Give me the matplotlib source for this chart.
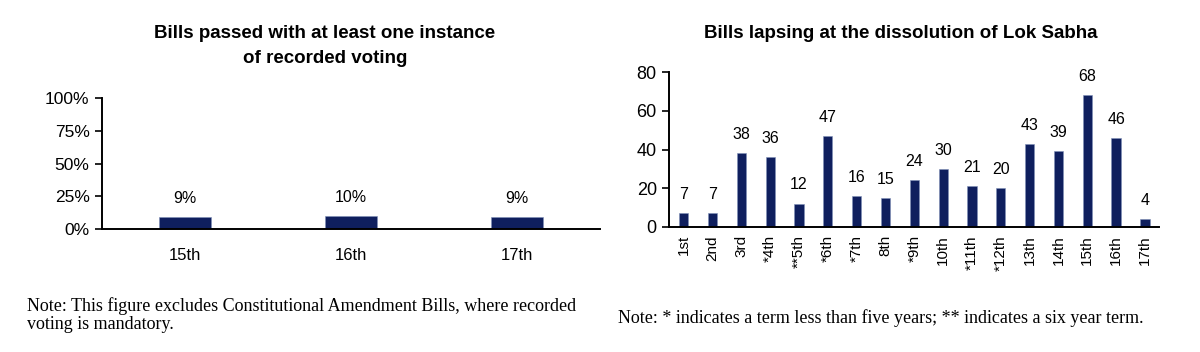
import matplotlib
matplotlib.use("Agg")
import matplotlib.pyplot as plt
from matplotlib.font_manager import fontManager

names = {f.name for f in fontManager.ttflist}
SANS = ['Liberation Sans Narrow', 'Liberation Sans', 'DejaVu Sans'] if 'Liberation Sans Narrow' in names else ['Liberation Sans', 'DejaVu Sans']
SERIF = ['Liberation Serif', 'DejaVu Serif']
plt.rcParams['font.family'] = SANS

# Data
left_categories = ['15th', '16th', '17th']
left_values = [0.09, 0.10, 0.09]
left_labels = ['9%', '10%', '9%']
left_yticks = [0, 0.25, 0.5, 0.75, 1.0]
left_yticklabels = ['0%', '25%', '50%', '75%', '100%']

right_categories = ['1st', '2nd', '3rd', '*4th', '**5th', '*6th', '*7th', '8th', '*9th',
                    '10th', '*11th', '*12th', '13th', '14th', '15th', '16th', '17th']
right_values = [7, 7, 38, 36, 12, 47, 16, 15, 24, 30, 21, 20, 43, 39, 68, 46, 4]
right_yticks = [0, 20, 40, 60, 80]

BAR = '#0f1f5e'

fig = plt.figure(figsize=(12, 3.52), dpi=100)

# Left chart
ax1 = fig.add_axes([102/1200, 1 - 229/352, (600 - 102)/1200, (229 - 98.3)/352])
x1 = range(len(left_categories))
ax1.bar(x1, left_values, width=0.31, color=BAR, edgecolor='#8090b8', linewidth=0.4)
ax1.set_xlim(-0.5, 2.5)
ax1.set_ylim(0, 1.0)
ax1.set_yticks(left_yticks)
ax1.set_yticklabels(left_yticklabels, fontsize=12.5)
ax1.set_xticks(list(x1))
ax1.set_xticklabels(left_categories, fontsize=12)
for xi, v, lab in zip(x1, left_values, left_labels):
    ax1.annotate(lab, (xi, v), xytext=(0, 8), textcoords='offset points',
                 ha='center', va='bottom', fontsize=11.5)
ax1.tick_params(axis='x', length=0, pad=14)
ax1.tick_params(axis='y', length=5, width=1.2, pad=4, direction='out')
for s in ['top', 'right']:
    ax1.spines[s].set_visible(False)
for s in ['left', 'bottom']:
    ax1.spines[s].set_linewidth(1.4)

fig.text(325/1200, 1 - 46/352, 'Bills passed with at least one instance\nof recorded voting',
         ha='center', va='center', fontsize=13.5, fontweight='bold', linespacing=1.6)
fig.text(27/1200, 1 - 315/352,
         'Note: This figure excludes Constitutional Amendment Bills, where recorded\nvoting is mandatory.',
         ha='left', va='center', fontsize=13, family=SERIF, linespacing=1.1)

# Right chart
ax2 = fig.add_axes([669.3/1200, 1 - 226.7/352, (1159.3 - 669.3)/1200, (226.7 - 72.3)/352])
x2 = range(len(right_categories))
ax2.bar(x2, right_values, width=0.32, color=BAR, edgecolor='#8090b8', linewidth=0.4)
ax2.set_xlim(-0.5, len(right_categories) - 0.5)
ax2.set_ylim(0, 80)
ax2.set_yticks(right_yticks)
ax2.tick_params(axis='y', labelsize=13, length=5, width=1.2, pad=4, direction='out')
ax2.set_xticks(list(x2))
ax2.set_xticklabels(right_categories, rotation=90, fontsize=11)
ax2.tick_params(axis='x', length=0, pad=6)
for xi, v in zip(x2, right_values):
    ax2.annotate(str(v), (xi, v), xytext=(0, 8), textcoords='offset points',
                 ha='center', va='bottom', fontsize=11.5)
for s in ['top', 'right']:
    ax2.spines[s].set_visible(False)
for s in ['left', 'bottom']:
    ax2.spines[s].set_linewidth(1.4)

fig.text(901/1200, 1 - 33.5/352, 'Bills lapsing at the dissolution of Lok Sabha',
         ha='center', va='center', fontsize=13.5, fontweight='bold')
fig.text(618/1200, 1 - 318.5/352,
         'Note: * indicates a term less than five years; ** indicates a six year term.',
         ha='left', va='center', fontsize=13, family=SERIF)

fig.savefig('out.png', dpi=100)
